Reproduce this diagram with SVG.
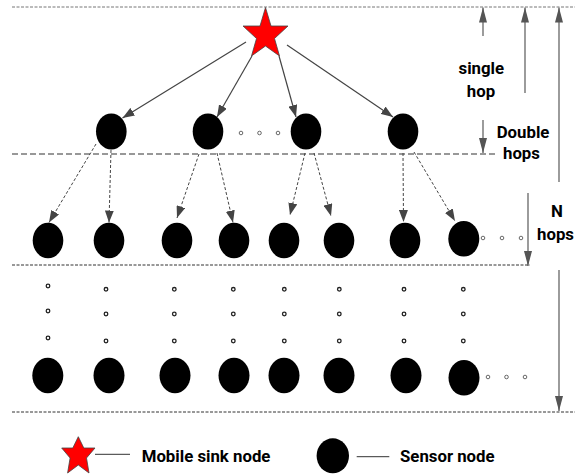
<svg xmlns="http://www.w3.org/2000/svg" width="575" height="475" viewBox="0 0 575 475">
<style>
.node{fill:#000}
.star{fill:#ff0000;stroke:#444;stroke-width:0.8}
.dot{fill:#fff;stroke:#222;stroke-width:1.3}
.hdot{fill:#fff;stroke:#444;stroke-width:0.8}
.solid{stroke:#444;stroke-width:1.2;fill:none}
.dash{stroke:#444;stroke-width:1;stroke-dasharray:3,2;fill:none}
.vert{stroke:#666;stroke-width:1.3;fill:none}
.sep1{stroke:#777;stroke-width:1;stroke-dasharray:3,1.5}
.sep2{stroke:#777;stroke-width:1.3;stroke-dasharray:6,3}
.sep3{stroke:#333;stroke-width:1;stroke-dasharray:3,1.5}
.lbl{font-family:Roboto,"Liberation Sans",sans-serif;font-weight:700;font-size:16.8px;fill:#000}
.leg{stroke:#333;stroke-width:1}
</style>
<defs>
<marker id="ah" markerUnits="userSpaceOnUse" markerWidth="12" markerHeight="9" refX="12" refY="4.5" orient="auto"><path d="M0,0 L12,4.5 L0,9 z" fill="#444"/></marker>
<marker id="ahv" markerUnits="userSpaceOnUse" markerWidth="15" markerHeight="8" refX="15" refY="4" orient="auto"><path d="M0,0 L15,4 L0,8 z" fill="#555"/></marker>
</defs>

<g id="separators">
<line class="sep1" x1="12" y1="7" x2="575" y2="7"/>
<line class="sep2" x1="12" y1="154" x2="497" y2="154"/>
<line class="sep3" x1="12" y1="265" x2="530" y2="265"/>
<line class="sep3" x1="12" y1="412" x2="575" y2="412"/>
</g>

<g id="connectors">
<line class="solid" x1="246" y1="42" x2="122.5" y2="118" marker-end="url(#ah)"/>
<line class="solid" x1="252" y1="56" x2="217" y2="117" marker-end="url(#ah)"/>
<line class="solid" x1="279" y1="56" x2="296" y2="117" marker-end="url(#ah)"/>
<line class="solid" x1="287" y1="45" x2="393" y2="117" marker-end="url(#ah)"/>
<line class="dash" x1="96" y1="144" x2="49" y2="222.5" marker-end="url(#ah)"/>
<line class="dash" x1="111" y1="150" x2="109" y2="222.5" marker-end="url(#ah)"/>
<line class="dash" x1="199" y1="154" x2="177" y2="218" marker-end="url(#ah)"/>
<line class="dash" x1="217" y1="153" x2="233" y2="222.5" marker-end="url(#ah)"/>
<line class="dash" x1="305" y1="153" x2="290" y2="215" marker-end="url(#ah)"/>
<line class="dash" x1="314" y1="153" x2="331" y2="216" marker-end="url(#ah)"/>
<line class="dash" x1="403" y1="153" x2="403.5" y2="222" marker-end="url(#ah)"/>
<line class="dash" x1="414" y1="152" x2="455" y2="221" marker-end="url(#ah)"/>
</g>

<g id="hop-arrows">
<line class="vert" x1="483" y1="36" x2="483" y2="7.5" marker-end="url(#ahv)"/>
<line class="vert" x1="525" y1="93" x2="525" y2="7.5" marker-end="url(#ahv)"/>
<line class="vert" x1="559" y1="182" x2="559" y2="7.5" marker-end="url(#ahv)"/>
<line class="vert" x1="483" y1="120" x2="483" y2="153" marker-end="url(#ahv)"/>
<line class="vert" x1="528" y1="193" x2="528" y2="266" marker-end="url(#ahv)"/>
<line class="vert" x1="559" y1="270" x2="559" y2="411" marker-end="url(#ahv)"/>
</g>

<g id="labels">
<text class="lbl" x="481.3" y="73.5" text-anchor="middle">single</text>
<text class="lbl" x="481" y="96.5" text-anchor="middle">hop</text>
<text class="lbl" x="496.7" y="137.5">Double</text>
<text class="lbl" x="503" y="158.5">hops</text>
<text class="lbl" x="557" y="216.7" text-anchor="middle">N</text>
<text class="lbl" x="574" y="240" text-anchor="end">hops</text>
</g>

<g id="sink">
<polygon class="star" points="265.5,7.5 271,26 288,26 274.5,38.5 279.5,56 265.5,46 251.5,56 256.5,38.5 243,26 260,26"/>
</g>

<g id="layer1">
<ellipse id="n1-1" class="node" cx="111.3" cy="131.5" rx="15.3" ry="18"/>
<ellipse id="n1-2" class="node" cx="208" cy="131.5" rx="15.3" ry="18"/>
<ellipse id="n1-3" class="node" cx="306" cy="131.5" rx="15.3" ry="18"/>
<ellipse id="n1-4" class="node" cx="403" cy="131.5" rx="15.3" ry="18"/>
<circle class="hdot" cx="241" cy="133" r="1.8"/>
<circle class="hdot" cx="259.5" cy="133" r="1.8"/>
<circle class="hdot" cx="278" cy="133" r="1.8"/>
</g>

<g id="layer2">
<ellipse id="n2-1" class="node" cx="48" cy="240.5" rx="15.3" ry="17.8"/>
<ellipse id="n2-2" class="node" cx="109" cy="240.5" rx="15.3" ry="17.8"/>
<ellipse id="n2-3" class="node" cx="177" cy="240.5" rx="15.3" ry="17.8"/>
<ellipse id="n2-4" class="node" cx="234" cy="240.5" rx="15.3" ry="17.8"/>
<ellipse id="n2-5" class="node" cx="284" cy="240.5" rx="15.3" ry="17.8"/>
<ellipse id="n2-6" class="node" cx="339" cy="240.5" rx="15.3" ry="17.8"/>
<ellipse id="n2-7" class="node" cx="405" cy="240.5" rx="15.3" ry="17.8"/>
<ellipse id="n2-8" class="node" cx="463.8" cy="238.8" rx="15.5" ry="17.8"/>
<circle class="hdot" cx="483" cy="238" r="1.8"/>
<circle class="hdot" cx="502" cy="238" r="1.8"/>
<circle class="hdot" cx="521" cy="238" r="1.8"/>
</g>

<g id="continuation">
<circle class="dot" cx="48" cy="286" r="1.8"/><circle class="dot" cx="48" cy="311" r="1.8"/><circle class="dot" cx="48" cy="338" r="1.8"/>
<circle class="dot" cx="106" cy="289.3" r="1.8"/><circle class="dot" cx="106" cy="314" r="1.8"/><circle class="dot" cx="106" cy="341" r="1.8"/>
<circle class="dot" cx="174.3" cy="289.3" r="1.8"/><circle class="dot" cx="174.3" cy="314" r="1.8"/><circle class="dot" cx="174.3" cy="341" r="1.8"/>
<circle class="dot" cx="233.3" cy="289.3" r="1.8"/><circle class="dot" cx="233.3" cy="314" r="1.8"/><circle class="dot" cx="233.3" cy="341" r="1.8"/>
<circle class="dot" cx="284.3" cy="289.3" r="1.8"/><circle class="dot" cx="284.3" cy="314" r="1.8"/><circle class="dot" cx="284.3" cy="341" r="1.8"/>
<circle class="dot" cx="339.3" cy="289.3" r="1.8"/><circle class="dot" cx="339.3" cy="314" r="1.8"/><circle class="dot" cx="339.3" cy="341" r="1.8"/>
<circle class="dot" cx="404" cy="289.3" r="1.8"/><circle class="dot" cx="404" cy="314" r="1.8"/><circle class="dot" cx="404" cy="341" r="1.8"/>
<circle class="dot" cx="463.3" cy="289.3" r="1.8"/><circle class="dot" cx="463.3" cy="314" r="1.8"/><circle class="dot" cx="463.3" cy="341" r="1.8"/>
</g>

<g id="layerN">
<ellipse id="nN-1" class="node" cx="47.8" cy="375.5" rx="15.5" ry="17.8"/>
<ellipse id="nN-2" class="node" cx="109" cy="375.5" rx="15.5" ry="17.8"/>
<ellipse id="nN-3" class="node" cx="175" cy="375.5" rx="15.5" ry="17.8"/>
<ellipse id="nN-4" class="node" cx="234" cy="375.5" rx="15.5" ry="17.8"/>
<ellipse id="nN-5" class="node" cx="284" cy="375.5" rx="15.5" ry="17.8"/>
<ellipse id="nN-6" class="node" cx="339" cy="375.5" rx="15.5" ry="17.8"/>
<ellipse id="nN-7" class="node" cx="406" cy="375.5" rx="15.5" ry="17.8"/>
<ellipse id="nN-8" class="node" cx="464" cy="377.8" rx="15.5" ry="17.8"/>
<circle class="hdot" cx="488" cy="377" r="1.8"/>
<circle class="hdot" cx="506.5" cy="377" r="1.8"/>
<circle class="hdot" cx="525" cy="377" r="1.8"/>
</g>

<g id="legend">
<polygon class="star" points="78.3,436.7 83.8,448 95,448 86.5,458 89,473 78.3,465 67.6,473 70.1,458 61.7,448 72.8,448"/>
<line class="leg" x1="95" y1="454.3" x2="130" y2="454.3"/>
<text class="lbl" x="141.7" y="461.7">Mobile sink node</text>
<ellipse class="node" cx="332.8" cy="455.8" rx="16.2" ry="17.5"/>
<line class="leg" x1="356.7" y1="456.7" x2="389.3" y2="456.7"/>
<text class="lbl" x="400" y="462.3">Sensor node</text>
</g>
</svg>
